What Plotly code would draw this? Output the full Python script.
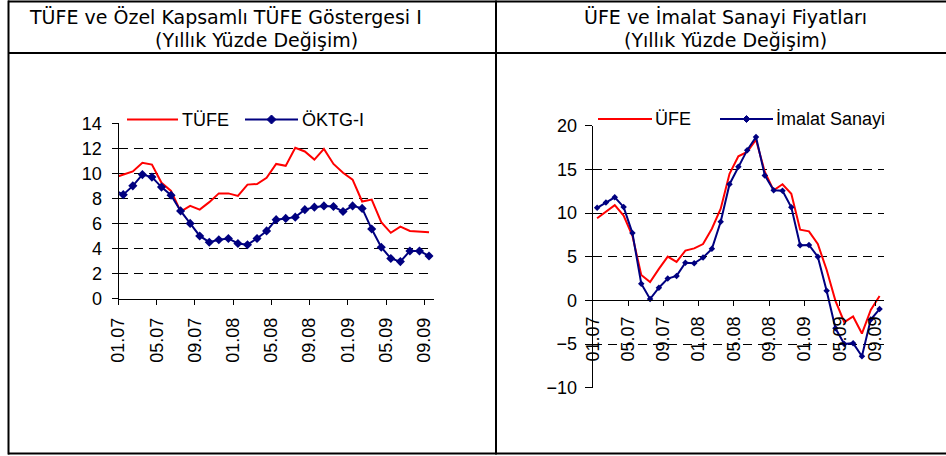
import plotly.graph_objects as go

# ---------------- data ----------------
months = ["12.06",
          "01.07", "02.07", "03.07", "04.07", "05.07", "06.07", "07.07", "08.07", "09.07", "10.07", "11.07", "12.07",
          "01.08", "02.08", "03.08", "04.08", "05.08", "06.08", "07.08", "08.08", "09.08", "10.08", "11.08", "12.08",
          "01.09", "02.09", "03.09", "04.09", "05.09", "06.09", "07.09", "08.09", "09.09"]

tufe = [9.65, 9.9, 10.15, 10.85, 10.7, 9.25, 8.6, 6.95, 7.4, 7.1, 7.7, 8.4, 8.4,
        8.2, 9.1, 9.15, 9.65, 10.75, 10.6, 12.05, 11.75, 11.1, 11.95, 10.75, 10.05,
        9.5, 7.75, 7.9, 6.1, 5.25, 5.75, 5.4, 5.35, 5.3]
oktg = [8.7, 8.3, 9.0, 9.9, 9.7, 8.9, 8.25, 7.0, 6.0, 5.0, 4.5, 4.7, 4.8,
        4.4, 4.3, 4.8, 5.4, 6.3, 6.4, 6.5, 7.1, 7.3, 7.4, 7.35, 6.95,
        7.4, 7.2, 5.55, 4.1, 3.2, 2.95, 3.8, 3.8, 3.4]

# right chart starts at 01.07
ufe = [9.4, 10.1, 10.9, 9.7, 7.4, 2.9, 2.1, 3.6, 5.0, 4.4, 5.7, 5.95,
       6.45, 8.2, 10.5, 14.5, 16.5, 17.0, 18.4, 14.7, 12.6, 13.3, 12.2, 8.1,
       7.9, 6.45, 3.5, -0.05, -2.5, -1.85, -3.8, -1.1, 0.5]
imalat = [10.6, 11.2, 11.8, 10.7, 7.7, 1.9, 0.15, 1.45, 2.5, 2.8, 4.3, 4.25,
          4.9, 5.9, 9.0, 13.3, 15.3, 17.2, 18.7, 14.3, 12.6, 12.55, 10.65, 6.3,
          6.35, 5.0, 1.1, -3.2, -5.0, -4.9, -6.4, -2.2, -1.0]

title_left = ["TÜFE ve Özel Kapsamlı TÜFE Göstergesi I", "(Yıllık Yüzde Değişim)"]
title_right = ["ÜFE ve İmalat Sanayi Fiyatları", "(Yıllık Yüzde Değişim)"]
names_left = ["TÜFE", "ÖKTG-I"]
names_right = ["ÜFE", "İmalat Sanayi"]

left_ticks = [0, 2, 4, 6, 8, 10, 12, 14]
right_ticks = [-10, -5, 0, 5, 10, 15, 20]

# ---------------- helpers ----------------
W, H = 946, 456
def fx(p):
    return p / W
def fy(p):
    return 1 - p / H

RED = "#FF0000"
NAVY = "#000080"
FONT = "Liberation Sans, Arial, sans-serif"
TFONT = "DejaVu Sans, Verdana, sans-serif"

base = months.index("01.07")
x_left = [i - base for i in range(len(months))]
right_months = months[base:]
x_right = list(range(len(right_months)))
label_idx = list(range(0, len(right_months), 4))
tickvals = [i - 0.5 for i in label_idx]
ticktext = [right_months[i] for i in label_idx]
xrange_ = [-0.5, len(right_months) - 0.5]

fig = go.Figure()
fig.add_trace(go.Scatter(x=x_left, y=tufe, name=names_left[0], mode="lines",
                         line=dict(color=RED, width=2), xaxis="x", yaxis="y", showlegend=False))
fig.add_trace(go.Scatter(x=x_left, y=oktg, name=names_left[1], mode="lines+markers",
                         line=dict(color=NAVY, width=2),
                         marker=dict(symbol="diamond", size=7, color=NAVY),
                         xaxis="x", yaxis="y", showlegend=False))
fig.add_trace(go.Scatter(x=x_right, y=ufe, name=names_right[0], mode="lines",
                         line=dict(color=RED, width=2), xaxis="x2", yaxis="y2", showlegend=False))
fig.add_trace(go.Scatter(x=x_right, y=imalat, name=names_right[1], mode="lines+markers",
                         line=dict(color=NAVY, width=2),
                         marker=dict(symbol="diamond", size=5, color=NAVY),
                         xaxis="x2", yaxis="y2", showlegend=False))

grid = dict(showgrid=True, gridcolor="black", gridwidth=1, griddash="9px,6px")
axfont = dict(family=FONT, size=18, color="black")

fig.update_layout(
    width=W, height=H, margin=dict(l=0, r=0, t=0, b=0, autoexpand=False),
    paper_bgcolor="white", plot_bgcolor="white", showlegend=False,
    xaxis=dict(domain=[fx(118.5), fx(433.8)], range=xrange_, anchor="y",
               tickmode="array", tickvals=tickvals, ticktext=ticktext, tickangle=-90,
               showline=True, linecolor="black", linewidth=1, ticks="outside", ticklen=5,
               tickcolor="black", showgrid=False, zeroline=False, tickfont=axfont,
               ticklabelstandoff=6, automargin=False),
    yaxis=dict(domain=[fy(298.5), fy(123.3)], range=[0, 14], anchor="x",
               tickmode="array", tickvals=left_ticks,
               showline=True, linecolor="black", linewidth=1, ticks="outside", ticklen=6,
               tickcolor="black", zeroline=False, tickfont=axfont, ticklabelstandoff=6,
               automargin=False, **grid),
    xaxis2=dict(domain=[fx(592.7), fx(884)], range=xrange_, anchor="free",
                position=fy(300.3),
                tickmode="array", tickvals=tickvals, ticktext=ticktext, tickangle=-90,
                showline=True, linecolor="black", linewidth=1, ticks="outside", ticklen=5,
                tickcolor="black", showgrid=False, zeroline=False, tickfont=axfont,
                ticklabelstandoff=3, automargin=False),
    yaxis2=dict(domain=[fy(387.7), fy(125.7)], range=[-10, 20], anchor="x2",
                tickmode="array", tickvals=right_ticks,
                showline=True, linecolor="black", linewidth=1, ticks="outside", ticklen=7,
                tickcolor="black", zeroline=False, tickfont=axfont, ticklabelstandoff=4,
                automargin=False, **grid),
)

shapes = []
def hline(x0, x1, y, w=2, color="black", layer="above"):
    shapes.append(dict(type="line", xref="paper", yref="paper", x0=fx(x0), x1=fx(x1),
                       y0=fy(y), y1=fy(y), line=dict(color=color, width=w), layer=layer))
def vline(x, y0, y1, w=2):
    shapes.append(dict(type="line", xref="paper", yref="paper", x0=fx(x), x1=fx(x),
                       y0=fy(y0), y1=fy(y1), line=dict(color="black", width=w), layer="above"))
def rect(x0, y0, x1, y1):
    shapes.append(dict(type="rect", xref="paper", yref="paper", x0=fx(x0), x1=fx(x1),
                       y0=fy(y1), y1=fy(y0), fillcolor="white", line=dict(width=0), layer="between"))
def diamond(cx, cy, r, color):
    path = "M{},{} L{},{} L{},{} L{},{} Z".format(fx(cx - r), fy(cy), fx(cx), fy(cy - r),
                                                  fx(cx + r), fy(cy), fx(cx), fy(cy + r))
    shapes.append(dict(type="path", xref="paper", yref="paper", path=path,
                       fillcolor=color, line=dict(color=color, width=1), layer="above"))

# table borders
hline(8, W, 1.5)
hline(8, W, 53)
hline(8, W, 453.5)
vline(8.5, 0.5, 454.5)
vline(496, 0.5, 454.5)

# legends (white background hides the top grid line)
rect(121, 108, 370, 131)
hline(127, 178, 119.5, w=2, color=RED)
hline(245, 298, 119.5, w=2, color=NAVY)
diamond(271.5, 119.5, 4.5, NAVY)
rect(586, 106, 892, 132)
hline(598, 652, 119, w=2, color=RED)
hline(720, 773, 119, w=2, color=NAVY)
diamond(746.5, 119, 3.5, NAVY)

fig.update_layout(shapes=shapes)

ann = []
def text(s, x, y, xanchor="left", size=18, family=FONT):
    ann.append(dict(text=s, x=fx(x), y=fy(y), xref="paper", yref="paper", xanchor=xanchor,
                    yanchor="middle", showarrow=False, font=dict(family=family, size=size, color="black")))

text(title_left[0], 27, 17, "left", 19, TFONT)
text(title_left[1], 256, 40, "center", 19, TFONT)
text(title_right[0], 725, 17, "center", 19, TFONT)
text(title_right[1], 725, 40, "center", 19, TFONT)

text(names_left[0], 180, 120)
text(names_left[1], 300, 120)
text(names_right[0], 653, 119)
text(names_right[1], 774, 119)

fig.update_layout(annotations=ann)

fig.write_html("out.html", config={"responsive": False, "displayModeBar": False},
               post_script="document.body.style.margin='0';document.body.style.overflow='hidden';")
